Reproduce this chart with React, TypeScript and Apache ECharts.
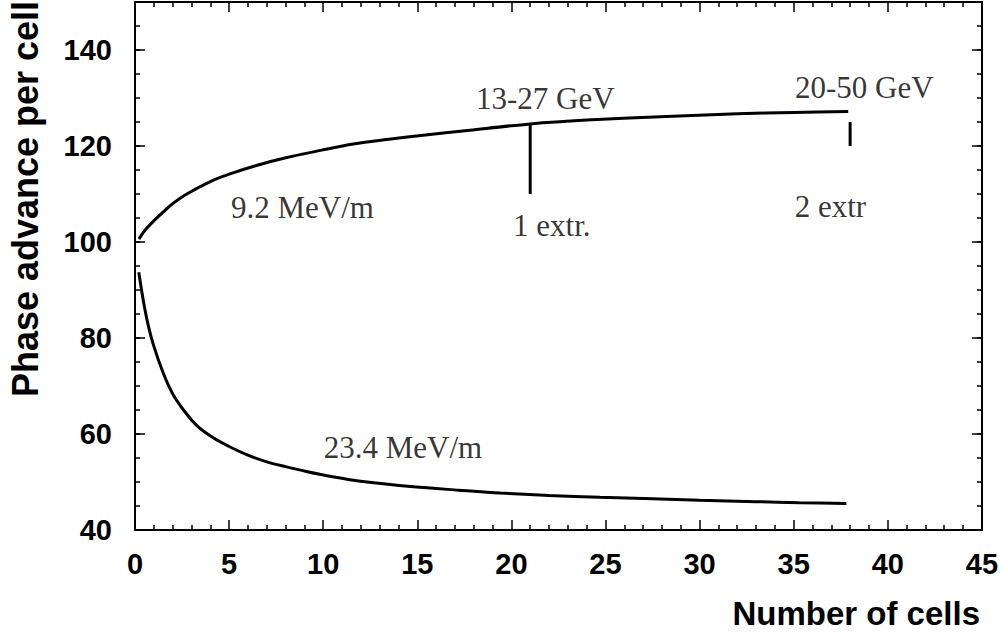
import React, { useEffect, useRef } from "react";
import * as echarts from "echarts";

// ---- data ----
const upperCurve: [number, number][] = [
  [0.21, 100.6], [0.5, 102.3], [1.0, 104.4], [1.6, 106.6], [2.0, 108.0], [2.75, 110.0],
  [4.0, 112.6], [5.05, 114.2], [6.5, 116.0], [8.07, 117.6], [10.0, 119.2], [11.6, 120.4],
  [13.5, 121.4], [15.2, 122.2], [17.8, 123.3], [21.0, 124.6], [24.0, 125.4], [27.9, 126.1],
  [32.0, 126.7], [35.0, 127.0], [37.9, 127.2],
];
const lowerCurve: [number, number][] = [
  [0.2, 93.7], [0.45, 87.6], [0.7, 82.7], [1.0, 78.3], [1.5, 72.7], [2.0, 68.4], [2.6, 64.9],
  [3.3, 61.7], [4.2, 59.1], [5.0, 57.4], [6.0, 55.6], [7.0, 54.2], [8.0, 53.2], [9.1, 52.2],
  [10.5, 51.1], [12.1, 50.1], [14.8, 49.0], [17.2, 48.3], [19.4, 47.7], [22.0, 47.2],
  [24.7, 46.8], [27.5, 46.5], [30.0, 46.2], [33.0, 45.9], [35.3, 45.7], [37.8, 45.5],
];
const extraction1: [number, number][] = [[21, 110], [21, 124.8]];
const extraction2: [number, number][] = [[38, 120], [38, 125]];

const annotationTexts = ["9.2 MeV/m", "13-27 GeV", "20-50 GeV", "1 extr.", "2 extr", "23.4 MeV/m"];
const annotationX = [8.9, 21.8, 38.75, 22.15, 36.95, 14.24];
const annotationY = [107.1, 130.0, 132.1, 103.5, 107.4, 57.1];

const xMin = 0, xMax = 45, xStep = 5;
const yMin = 40, yMax = 150, yMajor = 20, yMinor = 5;

const xTitle = "Number of cells";
const yTitle = "Phase advance per cell";

const SANS = "'Liberation Sans', Arial, Helvetica, sans-serif";
const SERIF = "'Liberation Serif', 'Times New Roman', serif";

export default function App() {
  const ref = useRef<HTMLDivElement>(null);
  useEffect(() => {
    if (!ref.current) return;
    const chart = echarts.init(ref.current, undefined, { renderer: "svg" });
    const lineStyle = { color: "#000", width: 2 };
    const tickStyle = { color: "#000", width: 1.5 };
    const baseX = (pos: "bottom" | "top", labels: boolean) => ({
      type: "value",
      position: pos,
      min: xMin,
      max: xMax,
      interval: xStep,
      axisLine: { show: true, onZero: false, lineStyle },
      axisTick: { show: true, inside: true, length: 10, lineStyle: tickStyle },
      minorTick: { show: true, splitNumber: 5, length: 5, lineStyle: tickStyle },
      splitLine: { show: false },
      axisLabel: labels
        ? { show: true, margin: 19, color: "#000", fontFamily: SANS, fontWeight: "bold", fontSize: 29 }
        : { show: false },
    });
    const baseY = (pos: "left" | "right", interval: number, len: number, line: boolean, labels: boolean) => ({
      type: "value",
      position: pos,
      min: yMin,
      max: yMax,
      interval,
      axisLine: { show: line, onZero: false, lineStyle },
      axisTick: { show: true, inside: true, length: len, lineStyle: tickStyle },
      splitLine: { show: false },
      axisLabel: labels
        ? { show: true, margin: 23, showMaxLabel: false, color: "#000", fontFamily: SANS, fontWeight: "bold", fontSize: 29 }
        : { show: false },
    });
    const curve = (data: [number, number][], width: number, smooth: number | boolean) => ({
      type: "line",
      xAxisIndex: 0,
      yAxisIndex: 0,
      data,
      smooth,
      showSymbol: false,
      symbol: "none",
      lineStyle: { color: "#000", width },
      silent: true,
    });
    chart.setOption({
      animation: false,
      backgroundColor: "#fff",
      grid: { left: 135, right: 19, top: 2, bottom: 104, containLabel: false },
      xAxis: [baseX("bottom", true), baseX("top", false)],
      yAxis: [
        baseY("left", yMajor, 10, true, true),
        baseY("left", yMinor, 5, false, false),
        baseY("right", yMajor, 10, true, false),
        baseY("right", yMinor, 5, false, false),
      ],
      series: [
        curve(upperCurve, 3, 0.3),
        curve(lowerCurve, 3, 0.3),
        curve(extraction1, 3, false),
        curve(extraction2, 3, false),
        {
          type: "scatter",
          xAxisIndex: 0,
          yAxisIndex: 0,
          symbolSize: 0,
          silent: true,
          data: annotationTexts.map((t, i) => ({ name: t, value: [annotationX[i], annotationY[i]] })),
          label: {
            show: true,
            position: "inside",
            formatter: "{b}",
            color: "#000",
            fontFamily: SERIF,
            fontSize: 31,
          },
        },
      ],
      graphic: [
        {
          type: "text",
          x: 980,
          y: 613,
          style: {
            text: xTitle,
            fill: "#000",
            font: `bold 33px ${SANS}`,
            textAlign: "right",
            textVerticalAlign: "middle",
          },
        },
        {
          type: "text",
          x: 25,
          y: 199,
          rotation: Math.PI / 2,
          style: {
            text: yTitle,
            fill: "#000",
            font: `bold 36px ${SANS}`,
            textAlign: "center",
            textVerticalAlign: "middle",
          },
        },
      ],
    });
    return () => chart.dispose();
  }, []);
  return (
    <div
      ref={ref}
      style={{ position: "fixed", left: 0, top: 0, width: 1001, height: 634, background: "#fff" }}
    />
  );
}
